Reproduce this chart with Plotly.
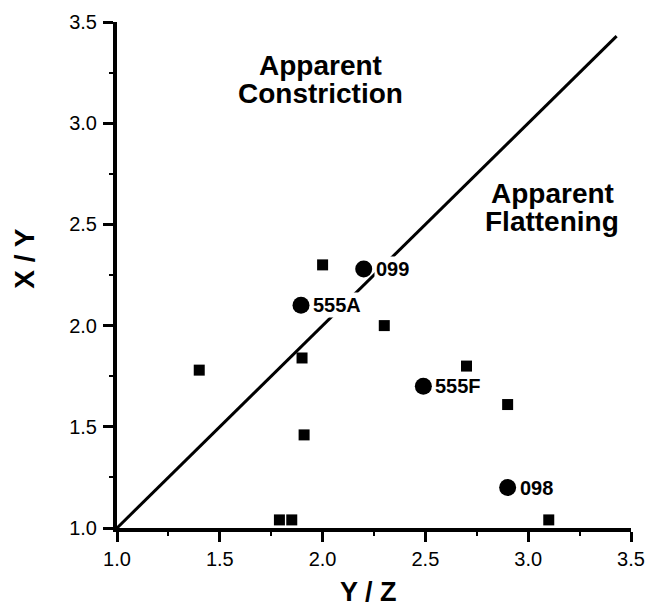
import plotly.graph_objects as go

# Data
sq_x = [1.40, 1.90, 1.91, 1.79, 1.85, 2.00, 2.30, 2.70, 2.90, 3.10]
sq_y = [1.78, 1.84, 1.46, 1.04, 1.04, 2.30, 2.00, 1.80, 1.61, 1.04]

circ_x = [2.20, 1.895, 2.49, 2.90]
circ_y = [2.28, 2.10, 1.70, 1.20]
circ_labels = ["099", "555A", "555F", "098"]

diag = [1.0, 3.43]

tick_vals = [1.0, 1.5, 2.0, 2.5, 3.0, 3.5]

FONT = "Liberation Sans, Arial, Helvetica, sans-serif"
FONT_B = "Liberation Sans, Arial, Helvetica, sans-serif"

fig = go.Figure()

fig.add_trace(go.Scatter(
    x=diag, y=diag, mode="lines",
    line=dict(color="black", width=3),
    hoverinfo="skip", showlegend=False, cliponaxis=False,
))

fig.add_trace(go.Scatter(
    x=sq_x, y=sq_y, mode="markers",
    marker=dict(symbol="square", size=11, color="black"),
    showlegend=False, cliponaxis=False,
))

fig.add_trace(go.Scatter(
    x=circ_x, y=circ_y, mode="markers",
    marker=dict(symbol="circle", size=17, color="black"),
    showlegend=False, cliponaxis=False,
))

annotations = []
for x, y, t in zip(circ_x, circ_y, circ_labels):
    annotations.append(dict(
        x=x, y=y, xref="x", yref="y", text=t, showarrow=False,
        xanchor="left", yanchor="middle", xshift=10, yshift=0,
        font=dict(family=FONT_B, size=20, color="black", weight="bold"),
        bgcolor="white", borderpad=1,
    ))

big = dict(family=FONT_B, size=28, color="black", weight="bold")
annotations += [
    dict(x=1.99, y=3.285, xref="x", yref="y", text="Apparent", showarrow=False,
         xanchor="center", yanchor="middle", font=big),
    dict(x=1.99, y=3.145, xref="x", yref="y", text="Constriction", showarrow=False,
         xanchor="center", yanchor="middle", font=big),
    dict(x=3.116, y=2.655, xref="x", yref="y", text="Apparent", showarrow=False,
         xanchor="center", yanchor="middle", font=big),
    dict(x=3.116, y=2.515, xref="x", yref="y", text="Flattening", showarrow=False,
         xanchor="center", yanchor="middle", font=big),
    dict(x=-0.179, y=0.534, xref="paper", yref="paper", text="X / Y", showarrow=False,
         xanchor="center", yanchor="middle", textangle=-90, font=big),
    dict(x=0.49, y=-0.158, xref="paper", yref="paper", text="Y / Z", showarrow=False,
         xanchor="center", yanchor="bottom", borderpad=0,
         font=dict(family=FONT_B, size=27, color="black", weight="bold")),
]

axis_common = dict(
    range=[1.0, 3.5],
    tickvals=tick_vals,
    tickformat=".1f",
    automargin=False,
    showgrid=False, zeroline=False,
    showline=True, linecolor="black", linewidth=4,
    ticks="outside", ticklen=10, tickwidth=3, tickcolor="black",
    tickfont=dict(family=FONT, size=20, color="black"),
    minor=dict(dtick=0.25, ticks="outside", ticklen=4, tickwidth=2, tickcolor="black", showgrid=False),
)

fig.update_layout(
    width=647, height=609,
    margin=dict(l=117, r=16, t=22, b=81),
    paper_bgcolor="white", plot_bgcolor="white",
    xaxis=dict(**axis_common, ticklabelstandoff=0),
    yaxis=dict(**axis_common, ticklabelstandoff=2),
    annotations=annotations,
    showlegend=False,
)

fig.write_html("out.html", config={"displayModeBar": False},
               post_script="document.body.style.margin='0px';")
